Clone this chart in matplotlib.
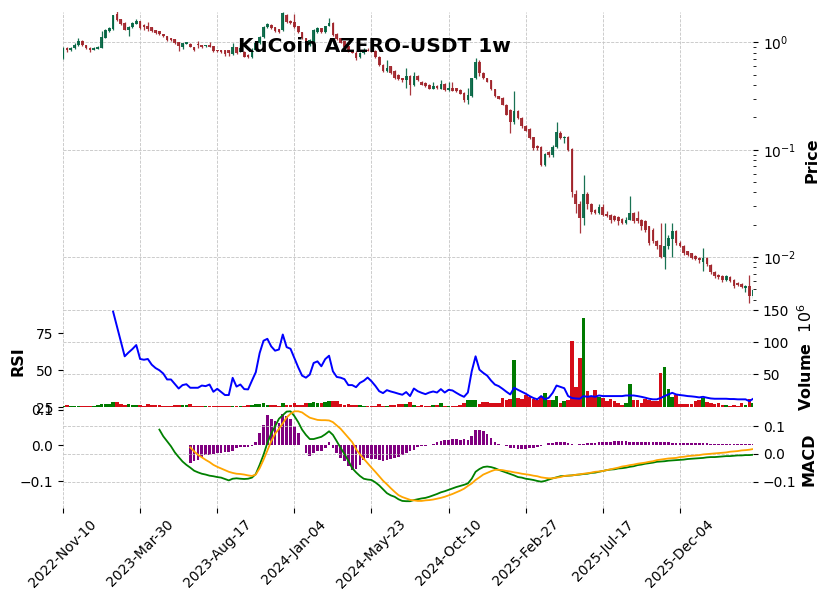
import numpy as np
import pandas as pd
import matplotlib
matplotlib.use("Agg")
import matplotlib.pyplot as plt
from matplotlib.ticker import FixedLocator, FuncFormatter, LogLocator, NullFormatter

# weekly candles, 2022-11-10 onwards
dates = pd.date_range("2022-11-10", periods=180, freq="7D")

opens = [0.71, 0.893, 0.85, 0.88, 0.94, 1.03, 0.94, 0.89, 0.85, 0.875,
         0.893, 1.106, 1.28, 1.35, 1.83, 1.64, 1.53, 1.32, 1.39, 1.50,
         1.58, 1.47, 1.42, 1.39, 1.31, 1.28, 1.20, 1.155, 1.09, 1.07,
         1.01, 0.91, 0.975, 0.97, 0.905, 0.96, 0.945, 0.92, 0.95, 0.925,
         0.855, 0.85, 0.845, 0.845, 0.775, 0.905, 0.82, 0.815, 0.77, 0.73,
         0.85, 0.98, 1.12, 1.39, 1.46, 1.38, 1.33, 1.31, 1.80, 1.58,
         1.55, 1.41, 1.25, 1.10, 0.95, 1.02, 1.25, 1.36, 1.24, 1.43,
         1.52, 1.20, 1.09, 1.03, 0.925, 0.855, 0.80, 0.73, 0.80, 0.86,
         0.84, 0.84, 0.74, 0.62, 0.54, 0.60, 0.54, 0.50, 0.465, 0.445,
         0.49, 0.40, 0.49, 0.432, 0.42, 0.40, 0.37, 0.39, 0.37, 0.41,
         0.357, 0.38, 0.375, 0.36, 0.34, 0.29, 0.315, 0.466, 0.665, 0.52,
         0.466, 0.443, 0.367, 0.318, 0.303, 0.263, 0.233, 0.18, 0.228, 0.197,
         0.168, 0.156, 0.131, 0.109, 0.106, 0.0725, 0.095, 0.09, 0.106, 0.144,
         0.128, 0.132, 0.101, 0.039, 0.031, 0.023, 0.039, 0.031, 0.0276, 0.026,
         0.0296, 0.025, 0.0248, 0.024, 0.0235, 0.0226, 0.021, 0.0223, 0.0255, 0.023,
         0.0223, 0.0215, 0.0193, 0.018, 0.014, 0.013, 0.0101, 0.0126, 0.0148, 0.0174,
         0.0135, 0.0126, 0.0113, 0.0109, 0.0103, 0.0099, 0.0090, 0.0099, 0.0085, 0.0072,
         0.0068, 0.0067, 0.0061, 0.0065, 0.0061, 0.0057, 0.0056, 0.0052, 0.0054, 0.0043]

highs = [0.905, 0.905, 0.90, 0.98, 1.09, 1.05, 0.945, 0.90, 0.90, 0.93,
         1.28, 1.34, 1.40, 1.82, 1.96, 1.66, 1.55, 1.41, 1.56, 1.66,
         1.60, 1.49, 1.56, 1.40, 1.32, 1.29, 1.21, 1.16, 1.10, 1.08,
         1.02, 0.99, 1.02, 0.99, 0.91, 1.03, 0.95, 0.95, 1.0, 0.93,
         0.86, 0.86, 0.85, 0.86, 0.99, 0.91, 0.92, 0.83, 0.78, 0.88,
         1.0, 1.15, 1.42, 1.52, 1.50, 1.40, 1.34, 1.94, 1.85, 1.62,
         1.85, 1.42, 1.26, 1.11, 1.07, 1.33, 1.38, 1.37, 1.44, 1.69,
         1.54, 1.23, 1.10, 1.04, 0.93, 0.86, 0.83, 0.82, 0.88, 0.88,
         0.86, 0.86, 0.75, 0.63, 0.68, 0.61, 0.55, 0.51, 0.47, 0.577,
         0.50, 0.53, 0.50, 0.44, 0.43, 0.41, 0.43, 0.40, 0.445, 0.415,
         0.43, 0.43, 0.38, 0.365, 0.345, 0.38, 0.47, 0.715, 0.68, 0.53,
         0.47, 0.45, 0.37, 0.32, 0.31, 0.265, 0.24, 0.35, 0.235, 0.20,
         0.17, 0.158, 0.133, 0.11, 0.108, 0.093, 0.097, 0.11, 0.18, 0.15,
         0.134, 0.135, 0.103, 0.042, 0.0335, 0.0585, 0.040, 0.032, 0.028, 0.031,
         0.031, 0.027, 0.025, 0.0245, 0.024, 0.023, 0.0235, 0.037, 0.0265, 0.027,
         0.0225, 0.022, 0.0195, 0.0185, 0.0145, 0.021, 0.0207, 0.016, 0.0207, 0.0178,
         0.014, 0.013, 0.0115, 0.011, 0.0105, 0.010, 0.0121, 0.010, 0.0087, 0.0074,
         0.0069, 0.0068, 0.0068, 0.0067, 0.0062, 0.0058, 0.0057, 0.0055, 0.0068, 0.0052]

lows = [0.70, 0.813, 0.83, 0.875, 0.925, 0.93, 0.87, 0.815, 0.845, 0.87,
        0.89, 1.10, 1.25, 1.30, 1.60, 1.47, 1.30, 1.15, 1.37, 1.48,
        1.35, 1.30, 1.28, 1.26, 1.20, 1.17, 1.12, 1.04, 1.04, 0.97,
        0.84, 0.87, 0.96, 0.90, 0.83, 0.89, 0.89, 0.91, 0.90, 0.82,
        0.815, 0.80, 0.746, 0.75, 0.76, 0.78, 0.81, 0.73, 0.72, 0.72,
        0.84, 0.96, 1.10, 1.37, 1.34, 1.25, 1.22, 1.28, 1.52, 1.48,
        1.37, 1.22, 1.08, 0.97, 0.92, 1.0, 1.22, 1.22, 1.22, 1.41,
        1.16, 1.05, 0.98, 0.90, 0.82, 0.79, 0.69, 0.72, 0.78, 0.83,
        0.82, 0.72, 0.60, 0.53, 0.53, 0.51, 0.46, 0.45, 0.43, 0.376,
        0.325, 0.39, 0.44, 0.40, 0.385, 0.365, 0.365, 0.37, 0.365, 0.35,
        0.35, 0.35, 0.345, 0.33, 0.28, 0.27, 0.31, 0.46, 0.49, 0.46,
        0.43, 0.36, 0.31, 0.295, 0.26, 0.21, 0.143, 0.175, 0.195, 0.16,
        0.15, 0.125, 0.10, 0.10, 0.07, 0.071, 0.085, 0.085, 0.104, 0.125,
        0.115, 0.098, 0.036, 0.026, 0.0167, 0.020, 0.028, 0.025, 0.025, 0.025,
        0.024, 0.0235, 0.021, 0.0215, 0.020, 0.0205, 0.0205, 0.022, 0.021, 0.021,
        0.018, 0.017, 0.013, 0.0135, 0.012, 0.0098, 0.0078, 0.012, 0.0101, 0.013,
        0.0125, 0.0105, 0.0102, 0.0095, 0.0093, 0.0088, 0.0075, 0.0083, 0.0070, 0.0064,
        0.0063, 0.0059, 0.006, 0.0058, 0.0052, 0.0054, 0.0051, 0.0047, 0.0037, 0.0042]

closes = [0.893, 0.85, 0.885, 0.95, 1.04, 0.94, 0.88, 0.85, 0.88, 0.915,
          1.12, 1.31, 1.37, 1.80, 1.62, 1.49, 1.32, 1.39, 1.53, 1.60,
          1.37, 1.39, 1.35, 1.28, 1.22, 1.19, 1.14, 1.06, 1.05, 0.98,
          0.925, 0.98, 1.0, 0.905, 0.855, 0.94, 0.905, 0.94, 0.905, 0.83,
          0.825, 0.815, 0.775, 0.80, 0.905, 0.79, 0.885, 0.74, 0.73, 0.85,
          0.98, 1.12, 1.40, 1.48, 1.36, 1.27, 1.25, 1.88, 1.56, 1.52,
          1.39, 1.24, 1.10, 0.987, 1.06, 1.31, 1.36, 1.24, 1.43, 1.52,
          1.18, 1.07, 0.995, 0.906, 0.83, 0.80, 0.72, 0.80, 0.86, 0.84,
          0.83, 0.74, 0.62, 0.54, 0.58, 0.525, 0.47, 0.46, 0.445, 0.49,
          0.40, 0.49, 0.445, 0.403, 0.39, 0.37, 0.395, 0.38, 0.41, 0.357,
          0.38, 0.355, 0.35, 0.333, 0.29, 0.325, 0.466, 0.665, 0.52, 0.466,
          0.433, 0.367, 0.318, 0.30, 0.263, 0.212, 0.18, 0.228, 0.197, 0.165,
          0.151, 0.128, 0.103, 0.103, 0.0725, 0.0915, 0.09, 0.107, 0.146, 0.128,
          0.131, 0.10, 0.040, 0.031, 0.023, 0.039, 0.031, 0.0265, 0.026, 0.0296,
          0.0248, 0.024, 0.0223, 0.0223, 0.0215, 0.021, 0.0223, 0.0255, 0.0215, 0.0215,
          0.0193, 0.018, 0.0135, 0.014, 0.0126, 0.0101, 0.0126, 0.0152, 0.0174, 0.0135,
          0.0126, 0.0109, 0.0105, 0.0099, 0.0096, 0.0093, 0.0099, 0.0087, 0.0072, 0.0066,
          0.0065, 0.0061, 0.0066, 0.006, 0.0054, 0.0055, 0.0053, 0.0054, 0.0043, 0.0049]

# volume in millions
volume_m = [0.5, 3.1, 0.3, 0.3, 0.4, 0.3, 1.0, 1.0, 0.8, 3.1,
            4.1, 4.1, 4.1, 7.7, 7.7, 4.1, 3.1, 4.1, 3.1, 3.1,
            2.6, 1.0, 4.1, 2.6, 2.6, 2.6, 1.0, 1.0, 1.0, 2.6,
            2.6, 3.1, 3.1, 4.1, 1.0, 1.0, 1.0, 1.0, 1.0, 1.0,
            0.5, 0.5, 0.5, 1.0, 0.5, 0.5, 0.5, 1.0, 2.6, 2.6,
            3.6, 3.6, 5.7, 3.1, 3.1, 2.6, 1.5, 5.7, 3.1, 3.1,
            5.7, 3.1, 3.1, 5.2, 6.2, 7.2, 6.2, 6.2, 7.2, 8.2,
            9.3, 9.3, 4.1, 3.1, 4.1, 3.1, 2.0, 2.0, 1.0, 1.0,
            1.0, 1.5, 4.6, 1.5, 1.0, 2.6, 2.6, 4.1, 4.1, 4.1,
            7.7, 3.1, 1.0, 3.1, 1.0, 1.0, 3.1, 3.1, 6.2, 1.0,
            1.0, 1.0, 1.0, 3.1, 6.2, 10.8, 10.8, 10.8, 4.6, 7.7,
            6.7, 5.2, 6.2, 6.2, 13.9, 10.3, 12.4, 72.6, 13.9, 12.4,
            18.5, 15.5, 12.4, 10.3, 15.5, 21.6, 10.8, 10.8, 17.0, 6.2,
            8.8, 10.8, 102.0, 31.0, 75.0, 137.6, 24.7, 15.5, 25.8, 15.5,
            13.9, 9.3, 12.4, 9.3, 6.2, 3.1, 6.2, 35.5, 10.8, 10.8,
            6.2, 12.4, 10.8, 9.3, 9.3, 52.5, 62.0, 27.8, 15.5, 18.5,
            4.6, 4.6, 4.6, 4.6, 9.3, 10.8, 13.9, 7.7, 6.2, 4.6,
            6.2, 3.1, 3.1, 1.5, 3.1, 1.0, 6.2, 3.1, 12.4, 6.2]

rsi = [np.nan] * 13 + [
    89.5, 79.5, 69.5, 59.4, 62.0, 64.3, 67.0, 57.6, 57.1, 57.6,
    53.8, 51.5, 50.0, 47.8, 43.8, 43.8, 40.8, 37.7, 40.0, 40.6,
    38.2, 38.2, 38.2, 39.7, 39.3, 40.4, 35.5, 37.5, 35.4, 33.3,
    33.3, 44.9, 39.0, 40.4, 37.3, 37.1, 43.0, 48.7, 61.6, 69.9,
    71.2, 66.1, 63.2, 64.0, 74.1, 65.6, 64.5, 58.3, 52.0, 46.4,
    45.0, 47.1, 54.9, 56.0, 52.7, 57.5, 59.8, 49.3, 45.5, 45.0,
    44.0, 40.0, 40.0, 38.6, 41.5, 42.9, 45.1, 42.6, 39.5, 35.9,
    34.6, 36.6, 35.7, 35.0, 34.2, 33.5, 35.3, 32.6, 37.7, 35.9,
    34.8, 33.9, 35.0, 35.7, 35.0, 37.3, 35.0, 36.8, 36.4, 34.8,
    33.3, 32.1, 35.0, 49.3, 59.4, 50.4, 48.2, 46.4, 43.1, 40.4,
    39.3, 37.5, 35.5, 33.7, 38.2, 36.8, 35.5, 34.2, 32.6, 31.3,
    30.4, 32.6, 30.4, 31.5, 34.8, 39.7, 38.8, 37.9, 32.6, 31.3,
    31.0, 30.8, 32.6, 32.1, 32.6, 32.1, 33.0, 32.6, 32.6, 32.6,
    32.6, 32.6, 32.6, 33.0, 33.0, 33.0, 32.6, 32.1, 31.5, 30.8,
    30.4, 30.4, 31.3, 32.6, 33.7, 34.8, 33.7, 33.3, 33.0, 32.6,
    32.4, 32.1, 31.7, 32.1, 31.5, 31.0, 30.8, 30.8, 30.8, 30.8,
    30.6, 30.6, 30.4, 30.4, 30.4, 29.2, 30.8]

macd = [np.nan] * 25 + [
    0.087, 0.063, 0.045, 0.027, 0.005, -0.012, -0.028, -0.040, -0.050, -0.061,
    -0.067, -0.072, -0.075, -0.079, -0.081, -0.084, -0.086, -0.091, -0.096, -0.090,
    -0.0885, -0.090, -0.091, -0.090, -0.086, -0.073, -0.040, -0.004, 0.039, 0.073,
    0.099, 0.126, 0.139, 0.152, 0.153, 0.136, 0.114, 0.087, 0.068, 0.053,
    0.053, 0.057, 0.061, 0.070, 0.081, 0.068, 0.045, 0.021, -0.001, -0.025,
    -0.052, -0.067, -0.080, -0.090, -0.093, -0.0945, -0.103, -0.114, -0.128, -0.142,
    -0.150, -0.155, -0.164, -0.170, -0.171, -0.171, -0.167, -0.164, -0.161, -0.159,
    -0.155, -0.150, -0.145, -0.139, -0.135, -0.130, -0.125, -0.120, -0.116, -0.112,
    -0.107, -0.090, -0.065, -0.055, -0.048, -0.046, -0.048, -0.052, -0.058, -0.063,
    -0.068, -0.073, -0.078, -0.084, -0.086, -0.090, -0.092, -0.0945, -0.098, -0.1006,
    -0.098, -0.093, -0.0885, -0.085, -0.081, -0.080, -0.079, -0.078, -0.076, -0.075,
    -0.073, -0.072, -0.069, -0.068, -0.065, -0.062, -0.059, -0.057, -0.056, -0.053,
    -0.052, -0.050, -0.047, -0.045, -0.041, -0.039, -0.036, -0.034, -0.032, -0.029,
    -0.028, -0.027, -0.025, -0.024, -0.023, -0.022, -0.021, -0.019, -0.018, -0.017,
    -0.016, -0.015, -0.013, -0.012, -0.012, -0.011, -0.0097, -0.0085, -0.0085, -0.0073,
    -0.006, -0.006, -0.0048, -0.0048, -0.0036]

signal = [np.nan] * 33 + [
    0.023, 0.0085, -0.0036, -0.013, -0.022, -0.030, -0.040, -0.047, -0.053, -0.059,
    -0.065, -0.069, -0.072, -0.073, -0.075, -0.078, -0.080, -0.075, -0.052, -0.022,
    0.012, 0.045, 0.072, 0.090, 0.110, 0.131, 0.144, 0.153, 0.153, 0.149,
    0.139, 0.130, 0.126, 0.122, 0.121, 0.121, 0.120, 0.114, 0.102, 0.090,
    0.074, 0.058, 0.042, 0.017, -0.0024, -0.018, -0.034, -0.050, -0.065, -0.081,
    -0.097, -0.110, -0.124, -0.137, -0.149, -0.156, -0.161, -0.166, -0.168, -0.170,
    -0.170, -0.168, -0.167, -0.165, -0.162, -0.159, -0.155, -0.150, -0.145, -0.139,
    -0.133, -0.126, -0.116, -0.107, -0.0945, -0.085, -0.075, -0.069, -0.063, -0.058,
    -0.058, -0.059, -0.062, -0.064, -0.067, -0.069, -0.072, -0.074, -0.076, -0.079,
    -0.081, -0.085, -0.087, -0.0885, -0.0885, -0.086, -0.084, -0.080, -0.079, -0.078,
    -0.076, -0.074, -0.072, -0.070, -0.068, -0.065, -0.064, -0.062, -0.059, -0.056,
    -0.053, -0.050, -0.046, -0.044, -0.041, -0.039, -0.036, -0.034, -0.032, -0.029,
    -0.027, -0.023, -0.021, -0.019, -0.017, -0.016, -0.015, -0.012, -0.011, -0.0085,
    -0.0073, -0.006, -0.0048, -0.0024, -0.0012, 0.0, 0.0012, 0.0024, 0.0036, 0.0048,
    0.0073, 0.0085, 0.0097, 0.012, 0.013, 0.0145, 0.017]

hist = [np.nan] * 33 + [
    -0.049, -0.044, -0.040, -0.032, -0.028, -0.0255, -0.0236, -0.021, -0.021, -0.019,
    -0.019, -0.016, -0.0066, -0.0047, -0.0038, -0.0038, -0.002, 0.0094, 0.036, 0.059,
    0.085, 0.074, 0.069, 0.064, 0.088, 0.083, 0.0755, 0.055, 0.036, 0.0028,
    -0.0208, -0.030, -0.0208, -0.016, -0.016, -0.0066, 0.0094, -0.0066, -0.0208, -0.035,
    -0.044, -0.0585, -0.068, -0.066, -0.054, -0.040, -0.035, -0.038, -0.038, -0.0415,
    -0.0425, -0.0415, -0.038, -0.035, -0.032, -0.0255, -0.0208, -0.016, -0.0113, -0.0047,
    -0.0019, -0.0005, 0.0009, 0.0047, 0.0094, 0.0113, 0.0142, 0.0151, 0.017, 0.017,
    0.0151, 0.017, 0.0142, 0.0264, 0.0425, 0.0425, 0.0406, 0.033, 0.0217, 0.0094,
    0.0047, 0.0009, -0.0019, -0.0066, -0.0066, -0.0085, -0.0085, -0.0094, -0.0076, -0.0066,
    -0.0047, -0.0019, 0.0005, 0.0057, 0.0076, 0.0104, 0.0104, 0.0094, 0.0066, 0.0038,
    0.0028, 0.0038, 0.0047, 0.0057, 0.0066, 0.0076, 0.0085, 0.0085, 0.0094, 0.0104,
    0.0113, 0.0113, 0.0113, 0.0113, 0.0104, 0.0104, 0.0094, 0.0094, 0.0094, 0.0094,
    0.0085, 0.0085, 0.0085, 0.0085, 0.0085, 0.0076, 0.0076, 0.0066, 0.0066, 0.0066,
    0.0057, 0.0057, 0.0057, 0.0057, 0.0057, 0.0047, 0.0038, 0.0038, 0.0038, 0.0038,
    0.0038, 0.0038, 0.0038, 0.0038, 0.0038, 0.0038, 0.0038]

UP, DOWN = "#006340", "#a02128"
VUP, VDOWN = "#007a00", "#d50d18"
GRID = dict(color="#c4c4c4", linestyle="--", linewidth=0.6)

plt.rcParams["font.size"] = 10

o = np.array(opens); h = np.array(highs); l = np.array(lows); c = np.array(closes)
x = np.arange(len(o))
up = c >= o
ccol = np.where(up, UP, DOWN)
vcol = np.where(up, VUP, VDOWN)

W, H = 832, 600
def box(x0, y0, x1, y1):
    return [x0 / W, 1 - y1 / H, (x1 - x0) / W, (y1 - y0) / H]

fig = plt.figure(figsize=(8.32, 6.0), dpi=100)
ax_p = fig.add_axes(box(63, 12, 753.2, 309))
ax_v = fig.add_axes(box(63, 309, 753.2, 407.5), sharex=ax_p)
ax_r = ax_v.twinx()
ax_h = fig.add_axes(box(63, 407.5, 753.2, 507.5), sharex=ax_p)
ax_m = ax_h.twinx()

# price candles
ax_p.vlines(x, l, h, colors=ccol, linewidth=0.9, alpha=0.9)
ax_p.bar(x, np.abs(c - o), bottom=np.minimum(o, c), width=0.7, color=ccol, alpha=0.9)
ax_p.set_yscale("log")
ax_p.set_ylim(0.003283, 1.924)
ax_p.yaxis.set_major_locator(FixedLocator([1e-2, 1e-1, 1e0]))
ax_p.yaxis.set_minor_locator(LogLocator(base=10, subs=np.arange(2, 10)))
ax_p.yaxis.set_minor_formatter(NullFormatter())
ax_p.yaxis.tick_right()

# volume + rsi
ax_v.bar(x, np.array(volume_m) * 1e6, width=0.95, color=vcol)
ax_v.set_ylim(-1.5e6, 151.6e6)
ax_v.yaxis.set_major_locator(FixedLocator([50e6, 100e6, 150e6]))
ax_v.yaxis.set_major_formatter(FuncFormatter(lambda v, p: f"{v / 1e6:g}"))
ax_v.yaxis.tick_right()
ax_r.plot(x, rsi, color="blue", linewidth=1.4)
ax_r.set_ylim(24.9, 91.3)
ax_r.yaxis.set_major_locator(FixedLocator([25, 50, 75]))
ax_r.yaxis.tick_left()

# macd
ax_h.bar(x, hist, width=0.7, color="purple")
ax_h.set_ylim(-0.1746, 0.107)
ax_h.yaxis.set_major_locator(FixedLocator([-0.1, 0.0, 0.1]))
ax_h.yaxis.set_major_formatter(FuncFormatter(lambda v, p: f"{v:.1f}".replace("-", "\u2212")))
ax_h.yaxis.tick_left()
ax_m.plot(x, macd, color="green", linewidth=1.3)
ax_m.plot(x, signal, color="orange", linewidth=1.3)
ax_m.set_ylim(-0.1937, 0.1667)
ax_m.yaxis.set_major_locator(FixedLocator([-0.1, 0.0, 0.1]))
ax_m.yaxis.set_major_formatter(FuncFormatter(lambda v, p: f"{v:.1f}".replace("-", "\u2212")))
ax_m.yaxis.tick_right()

ax_p.set_xlim(0, 179)
ticks = list(range(0, 180, 20))
for ax in (ax_p, ax_v, ax_r, ax_h, ax_m):
    for s in ax.spines.values():
        s.set_visible(False)
    ax.set_xticks(ticks)
    ax.set_facecolor("none")

for ax in (ax_p, ax_v):
    ax.grid(True, **GRID)
    ax.set_axisbelow(True)
ax_m.grid(True, axis="y", **GRID)
ax_h.grid(True, axis="x", **GRID)
ax_h.set_axisbelow(True)

for ax in (ax_p, ax_v, ax_r):
    ax.tick_params(axis="x", length=0, labelbottom=False)
ax_m.tick_params(axis="x", length=0, labelbottom=False)
ax_h.set_xticklabels([dates[i].strftime("%Y-%b-%d") for i in ticks], rotation=45)

fig.text(374 / W, 1 - 47 / H, "KuCoin AZERO-USDT 1w", fontsize=14.5, fontweight="bold",
         ha="center", va="center")
fig.text(812 / W, 1 - 160.5 / H, "Price", rotation=90, fontsize=11.5, fontweight="bold",
         ha="center", va="center")
fig.text(18.5 / W, 1 - 361 / H, "RSI", rotation=90, fontsize=11.5, fontweight="bold",
         ha="center", va="center")
fig.text(806 / W, 1 - 357.5 / H, "Volume  $10^{6}$", rotation=90, fontsize=11.5,
         fontweight="bold", ha="center", va="center")
fig.text(809 / W, 1 - 459 / H, "MACD", rotation=90, fontsize=11.5, fontweight="bold",
         ha="center", va="center")

plt.savefig("out.png", dpi=100)
plt.close(fig)
